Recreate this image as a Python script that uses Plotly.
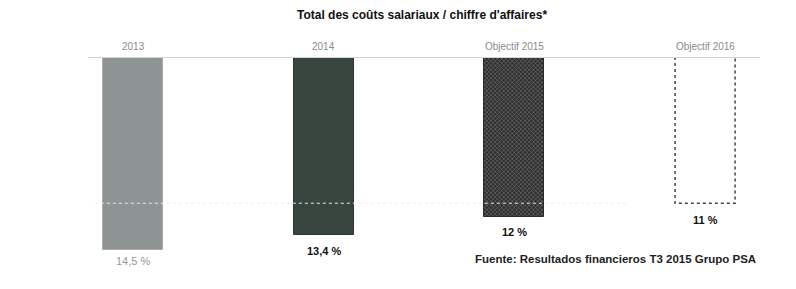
import plotly.graph_objects as go

categories = ["2013", "2014", "Objectif 2015", "Objectif 2016"]
values = [14.5, 13.4, 12.0, 11.0]
value_labels = ["14,5 %", "13,4 %", "12 %", "11 %"]
title_text = "Total des coûts salariaux / chiffre d'affaires*"
source_text = "Fuente: Resultados financieros T3 2015 Grupo PSA"
reference_level = 11.0

xs = list(range(len(categories)))
bar_w = 0.315
fills = ["#8e9493", "#38463f", "#333333", "#ffffff"]
label_colors = ["#9a9a9a", "#111111", "#111111", "#111111"]
label_shift = [-3, -8, -7, -9]

fig = go.Figure()

# faint reference dotted line
fig.add_trace(go.Scatter(x=[-0.2, 2.6], y=[reference_level, reference_level], mode="lines",
                         line=dict(color="#ebebeb", width=1, dash="dot"),
                         hoverinfo="skip", showlegend=False))

plain = [0, 1, 3]
fig.add_trace(go.Bar(
    x=[xs[k] for k in plain], y=[values[k] for k in plain], width=bar_w,
    marker=dict(color=[fills[k] for k in plain],
                line=dict(color=["#a8acab", "#2e3833", "rgba(0,0,0,0)"], width=1)),
    showlegend=False, hoverinfo="skip",
))
# hatched bar
fig.add_trace(go.Bar(
    x=[xs[2]], y=[values[2]], width=bar_w,
    marker=dict(color=fills[2], line=dict(color="#2a2a2a", width=1),
                pattern=dict(shape="x", fgcolor="#9a9a9a", bgcolor="#2e2e2e",
                             fillmode="replace", fgopacity=1, size=3, solidity=0.25)),
    showlegend=False, hoverinfo="skip",
))
fig.update_layout(barmode="overlay")

# dotted outline for last bar, derived from data
i = 3
x0, x1 = xs[i] - bar_w / 2, xs[i] + bar_w / 2
fig.add_trace(go.Scatter(
    x=[x0, x0, x1, x1], y=[0, values[i], values[i], 0], mode="lines",
    line=dict(color="#444444", width=1.5, dash="dot"),
    hoverinfo="skip", showlegend=False))

# baseline
fig.add_trace(go.Scatter(x=[-0.236, 3.288], y=[0, 0], mode="lines",
                         line=dict(color="#d4d4d4", width=2),
                         hoverinfo="skip", showlegend=False))

for xi, cat in zip(xs, categories):
    fig.add_annotation(x=xi, y=0, text=cat, showarrow=False, yanchor="bottom", yshift=3,
                       font=dict(family="Liberation Sans, Arial", size=10, color="#8a8a8a"))

for xi, v, lab, c, s in zip(xs, values, value_labels, label_colors, label_shift):
    fig.add_annotation(x=xi, y=v, text=("<b>%s</b>" % lab) if c == "#111111" else lab,
                       showarrow=False, yanchor="top", yshift=s,
                       font=dict(family="Liberation Sans, Arial", size=11, color=c))

fig.add_annotation(xref="paper", yref="paper", x=0.5, y=1, text="<b>%s</b>" % title_text,
                   showarrow=False, xanchor="center", yanchor="bottom", yshift=33, xshift=-2,
                   font=dict(family="Liberation Sans, Arial", size=12, color="#111111"))

fig.add_annotation(xref="paper", yref="paper", x=1, y=0, text="<b>%s</b>" % source_text,
                   showarrow=False, xanchor="right", yanchor="middle", yshift=24, xshift=-2,
                   font=dict(family="Liberation Sans, Arial", size=11.5, color="#222222"))

fig.update_layout(
    width=788, height=281,
    margin=dict(l=80, r=36, t=49, b=6),
    paper_bgcolor="white", plot_bgcolor="white",
    xaxis=dict(range=[-0.236, 3.288], visible=False),
    yaxis=dict(range=[17, 0], autorange=False, visible=False),
    bargap=0,
)

fig.write_html("out.html")
